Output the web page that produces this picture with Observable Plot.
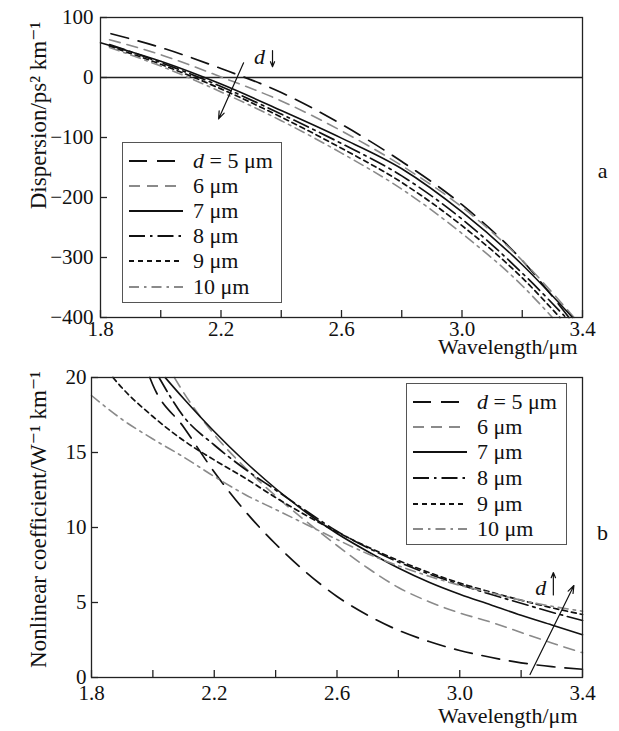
<!DOCTYPE html>
<html><head><meta charset="utf-8">
<script src="https://cdn.jsdelivr.net/npm/d3@7"></script>
<script src="https://cdn.jsdelivr.net/npm/@observablehq/plot@0.6"></script>
<style>
body{margin:0;background:#fff;}
#root{position:relative;width:619px;height:731px;font-family:'Liberation Serif','DejaVu Serif',serif;color:#111;}
#root svg{display:block;}
.legend{position:absolute;border:1px solid #555;background:#fff;box-sizing:border-box;}
.row{position:absolute;left:0;height:26px;display:flex;align-items:center;font-size:22px;white-space:nowrap;}
.row svg{margin-left:6px;margin-right:10px;}
</style></head>
<body><div id="root"></div>
<script>
// ---------- data ----------
const xTicks = [1.8, 2.0, 2.2, 2.4, 2.6, 2.8, 3.0, 3.2, 3.4];
const xTickLabels = [1.8, 2.2, 2.6, 3.0, 3.4];
const dispTicks = [-400, -300, -200, -100, 0, 100];
const gammaTicks = [0, 5, 10, 15, 20];
const seriesLabels = ["d = 5 μm", "6 μm", "7 μm", "8 μm", "9 μm", "10 μm"];

// panel a: dispersion (ps^2/km) vs wavelength (μm)
const disp5  = [[1.835,73],[2.0,50],[2.2,15],[2.4,-25],[2.6,-78],[2.8,-140],[3.0,-212],[3.2,-305],[3.355,-400]];
const disp6  = [[1.83,63],[2.0,38],[2.2,1],[2.4,-39],[2.6,-89],[2.8,-147],[3.0,-216],[3.2,-305],[3.372,-400]];
const disp7  = [[1.80,58],[2.0,27],[2.2,-11],[2.4,-55],[2.6,-101],[2.8,-152],[3.0,-224],[3.2,-312],[3.367,-400]];
const disp8  = [[1.83,55],[2.0,25],[2.2,-15],[2.4,-61],[2.6,-110],[2.8,-164],[3.0,-236],[3.2,-326],[3.345,-400]];
const disp9  = [[1.83,52],[2.0,22],[2.2,-19],[2.4,-66],[2.6,-118],[2.8,-175],[3.0,-247],[3.2,-334],[3.325,-400]];
const disp10 = [[1.83,50],[2.0,19],[2.2,-24],[2.4,-72],[2.6,-126],[2.8,-186],[3.0,-260],[3.2,-347],[3.30,-400]];

// panel b: nonlinear coefficient (1/(W km)) vs wavelength (μm)
const gam5  = [[1.99,20],[2.0,19.5],[2.1,16.7],[2.2,13.7],[2.3,11.1],[2.4,8.9],[2.5,7.0],[2.6,5.4],[2.7,4.15],[2.8,3.15],[2.9,2.4],[3.0,1.8],[3.1,1.35],[3.2,0.98],[3.3,0.72],[3.4,0.55]];
const gam6  = [[2.07,20],[2.1,19.0],[2.2,16.2],[2.3,14.0],[2.4,12.1],[2.5,10.4],[2.6,8.8],[2.7,7.3],[2.8,6.0],[2.9,5.05],[3.0,4.3],[3.1,3.7],[3.2,3.0],[3.3,2.3],[3.4,1.65]];
const gam7  = [[2.04,20],[2.1,18.6],[2.2,16.4],[2.3,14.4],[2.4,12.6],[2.5,11.0],[2.6,9.6],[2.7,8.4],[2.8,7.3],[2.9,6.35],[3.0,5.55],[3.1,4.85],[3.2,4.15],[3.3,3.5],[3.4,2.85]];
const gam8  = [[2.02,20],[2.1,17.4],[2.2,15.5],[2.3,13.9],[2.4,12.5],[2.5,11.1],[2.6,9.75],[2.7,8.65],[2.8,7.7],[2.9,6.9],[3.0,6.2],[3.1,5.55],[3.2,4.95],[3.3,4.35],[3.4,3.8]];
const gam9  = [[1.87,20],[1.9,19.3],[2.0,17.4],[2.1,15.8],[2.2,14.5],[2.3,13.3],[2.4,12.0],[2.5,10.8],[2.6,9.7],[2.7,8.7],[2.8,7.8],[2.9,7.0],[3.0,6.3],[3.1,5.7],[3.2,5.15],[3.3,4.65],[3.4,4.2]];
const gam10 = [[1.8,18.8],[1.9,17.2],[2.0,15.9],[2.1,14.7],[2.2,13.4],[2.3,12.2],[2.4,11.2],[2.5,10.2],[2.6,9.2],[2.7,8.25],[2.8,7.45],[2.9,6.75],[3.0,6.15],[3.1,5.65],[3.2,5.15],[3.3,4.75],[3.4,4.42]];

// annotations (data coordinates)
const arrowA = [{x1:2.275, y1:24.5, x2:2.192, y2:-69}];
const arrowAsmall = [{x1:2.371, y1:45, x2:2.371, y2:18}];
const labelA = [{x:2.328, y:35}];
const arrowB = [{x1:3.229, y1:0.2, x2:3.372, y2:6.13}];
const arrowBsmall = [{x1:3.305, y1:5.5, x2:3.305, y2:7.0}];
const labelB = [{x:3.264, y:6.0}];

// ---------- styles ----------
const BLACK = "#111", GRAY = "#8a8a8a";
const lineStyles = [
  {stroke: BLACK, dash: "18,10", width: 1.7},
  {stroke: GRAY,  dash: "11,7", width: 1.6},
  {stroke: BLACK, dash: null, width: 1.6},
  {stroke: BLACK, dash: "16,5,2.5,5", width: 1.7},
  {stroke: BLACK, dash: "5,4", width: 1.7},
  {stroke: GRAY,  dash: "10,5,2.5,5", width: 1.6}
];
const fmtNum = d => d < 0 ? "\u2212" + Math.abs(d) : String(d);
const FONT = "'Liberation Serif', 'DejaVu Serif', serif";

function lines(seriesList) {
  return seriesList.map((s, i) => Plot.line(s, {
    x: d => d[0], y: d => d[1], curve: "monotone-x",
    stroke: lineStyles[i].stroke, strokeWidth: lineStyles[i].width,
    strokeDasharray: lineStyles[i].dash || undefined
  }));
}

const root = document.getElementById("root");

// ---------- panel a ----------
const topH = 366, topMT = 17, topMB = 49, topML = 100, topMR = 37;
const plotA = Plot.plot({
  width: 619, height: topH, marginTop: topMT, marginBottom: topMB, marginLeft: topML, marginRight: topMR,
  x: {domain: [1.8, 3.4]},
  y: {domain: [-400, 100]},
  style: {fontFamily: FONT, fontSize: "21px", color: BLACK, background: "white", overflow: "visible"},
  marks: [
    Plot.ruleY([0], {stroke: "#222", strokeWidth: 1.3}),
    ...lines([disp5, disp6, disp7, disp8, disp9, disp10]),
    Plot.tickX(xTicks, {x: d => d, insetTop: (topH - topMT - topMB) - 7, stroke: "#222", strokeWidth: 1.3}),
    Plot.tickY(dispTicks, {y: d => d, insetRight: (619 - topML - topMR) - 7, stroke: "#222", strokeWidth: 1.3}),
    Plot.axisX(xTickLabels, {tickSize: 0, tickPadding: 4, tickFormat: d => d.toFixed(1), label: null, fontSize: 21}),
    Plot.axisY(dispTicks, {tickSize: 0, tickPadding: 7, tickFormat: fmtNum, label: null, fontSize: 21}),
    Plot.frame({stroke: "#222", strokeWidth: 1.3}),
    Plot.arrow(arrowA, {x1: "x1", y1: "y1", x2: "x2", y2: "y2", stroke: BLACK, strokeWidth: 1.2, headLength: 10, headAngle: 40}),
    Plot.arrow(arrowAsmall, {x1: "x1", y1: "y1", x2: "x2", y2: "y2", stroke: BLACK, strokeWidth: 1.2, headLength: 7, headAngle: 45}),
    Plot.text(labelA, {x: "x", y: "y", text: () => "d", fontStyle: "italic", fontSize: 22}),
    Plot.text(["Wavelength/μm"], {frameAnchor: "bottom-right", dy: 36, dx: -5, textAnchor: "end", fontSize: 22}),
    Plot.text(["Dispersion/ps² km⁻¹"], {frameAnchor: "left", textAnchor: "middle", rotate: -90, dx: -62, dy: -52, fontSize: 23}),
    Plot.text(["a"], {frameAnchor: "right", textAnchor: "middle", dx: 20, dy: 3, fontSize: 22})
  ]
});
root.appendChild(plotA);

// ---------- panel b ----------
const botH = 365, botMT = 11, botMB = 54, botML = 91, botMR = 37;
const plotB = Plot.plot({
  width: 619, height: botH, marginTop: botMT, marginBottom: botMB, marginLeft: botML, marginRight: botMR,
  x: {domain: [1.8, 3.4]},
  y: {domain: [0, 20]},
  style: {fontFamily: FONT, fontSize: "21px", color: BLACK, background: "white", overflow: "visible"},
  marks: [
    ...lines([gam5, gam6, gam7, gam8, gam9, gam10]),
    Plot.tickX(xTicks, {x: d => d, insetTop: (botH - botMT - botMB) - 7, stroke: "#222", strokeWidth: 1.3}),
    Plot.tickY(gammaTicks, {y: d => d, insetRight: (619 - botML - botMR) - 7, stroke: "#222", strokeWidth: 1.3}),
    Plot.axisX(xTickLabels, {tickSize: 0, tickPadding: 8, tickFormat: d => d.toFixed(1), label: null, fontSize: 21}),
    Plot.axisY(gammaTicks, {tickSize: 0, tickPadding: 5, tickFormat: fmtNum, label: null, fontSize: 21}),
    Plot.frame({stroke: "#222", strokeWidth: 1.3}),
    Plot.arrow(arrowB, {x1: "x1", y1: "y1", x2: "x2", y2: "y2", stroke: BLACK, strokeWidth: 1.2, headLength: 10, headAngle: 40}),
    Plot.arrow(arrowBsmall, {x1: "x1", y1: "y1", x2: "x2", y2: "y2", stroke: BLACK, strokeWidth: 1.2, headLength: 7, headAngle: 45}),
    Plot.text(labelB, {x: "x", y: "y", text: () => "d", fontStyle: "italic", fontSize: 22}),
    Plot.text(["Wavelength/μm"], {frameAnchor: "bottom-right", dy: 45, dx: -5, textAnchor: "end", fontSize: 22}),
    Plot.text(["Nonlinear coefficient/W⁻¹ km⁻¹"], {frameAnchor: "left", textAnchor: "middle", rotate: -90, dx: -53, dy: -8, fontSize: 23}),
    Plot.text(["b"], {frameAnchor: "right", textAnchor: "middle", dx: 20, dy: 5, fontSize: 22})
  ]
});
root.appendChild(plotB);

// ---------- legends (HTML) ----------
function legend(left, top, w, h, rowTops) {
  const box = document.createElement("div");
  box.className = "legend";
  Object.assign(box.style, {left: left + "px", top: top + "px", width: w + "px", height: h + "px"});
  seriesLabels.forEach((lab, i) => {
    const row = document.createElement("div");
    row.className = "row";
    row.style.top = (rowTops[i] - 13) + "px";
    const st = lineStyles[i];
    const svg = `<svg width="54" height="10"><line x1="0" y1="5" x2="54" y2="5" stroke="${st.stroke}" stroke-width="${st.width + 0.2}" ${st.dash ? `stroke-dasharray="${st.dash}"` : ""}/></svg>`;
    const txt = lab.startsWith("d ") ? `<i>d</i>${lab.slice(1)}` : lab;
    row.innerHTML = svg + `<span>${txt}</span>`;
    box.appendChild(row);
  });
  root.appendChild(box);
}
legend(122, 142, 160, 161, [18, 43, 68, 93, 118, 144]);
legend(406, 383, 161, 162, [18, 43, 68, 94, 120, 145]);
</script>
</body></html>
